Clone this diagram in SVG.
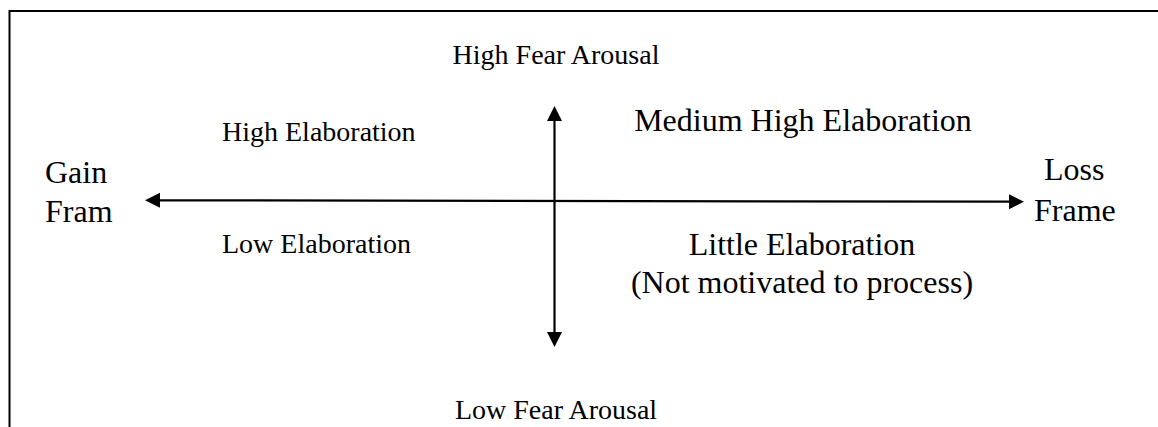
<svg xmlns="http://www.w3.org/2000/svg" width="1158" height="427" viewBox="0 0 1158 427">
<style>
text{font-family:"Liberation Serif","Times New Roman",serif;font-size:32px;fill:#000}
.sm{font-size:28px}
.frame{stroke:#000;stroke-width:2;fill:none}
.axis{stroke:#000;stroke-width:2.2;fill:none}
</style>
<defs>
<marker id="ah" markerUnits="userSpaceOnUse" markerWidth="16" markerHeight="16" refX="0" refY="7.5" orient="auto-start-reverse" overflow="visible">
<path d="M0,0 L15,7.5 L0,15 Z" fill="#000"/>
</marker>
</defs>
<rect width="1158" height="427" fill="#fff"/>
<path class="frame" d="M9.5,427 L9.5,11 L1158,11"/>
<g id="connectors">
<line class="axis" x1="160" y1="200.3" x2="1009" y2="201.7" marker-start="url(#ah)" marker-end="url(#ah)"/>
<line class="axis" x1="554.5" y1="121" x2="554.5" y2="332" marker-start="url(#ah)" marker-end="url(#ah)"/>
</g>
<g id="high-fear"><text class="sm" x="556" y="64" text-anchor="middle">High Fear Arousal</text></g>
<g id="low-fear"><text class="sm" x="556" y="419" text-anchor="middle">Low Fear Arousal</text></g>
<g id="gain"><text x="45" y="183">Gain</text><text x="45" y="222">Fram</text></g>
<g id="loss"><text x="1044" y="180">Loss</text><text x="1034" y="221">Frame</text></g>
<g id="high-elab"><text class="sm" x="222" y="141">High Elaboration</text></g>
<g id="medium-high"><text x="803" y="131" text-anchor="middle">Medium High Elaboration</text></g>
<g id="low-elab"><text class="sm" x="222" y="253">Low Elaboration</text></g>
<g id="little-elab"><text x="802" y="255" text-anchor="middle">Little Elaboration</text><text x="802" y="293" text-anchor="middle">(Not motivated to process)</text></g>
</svg>
